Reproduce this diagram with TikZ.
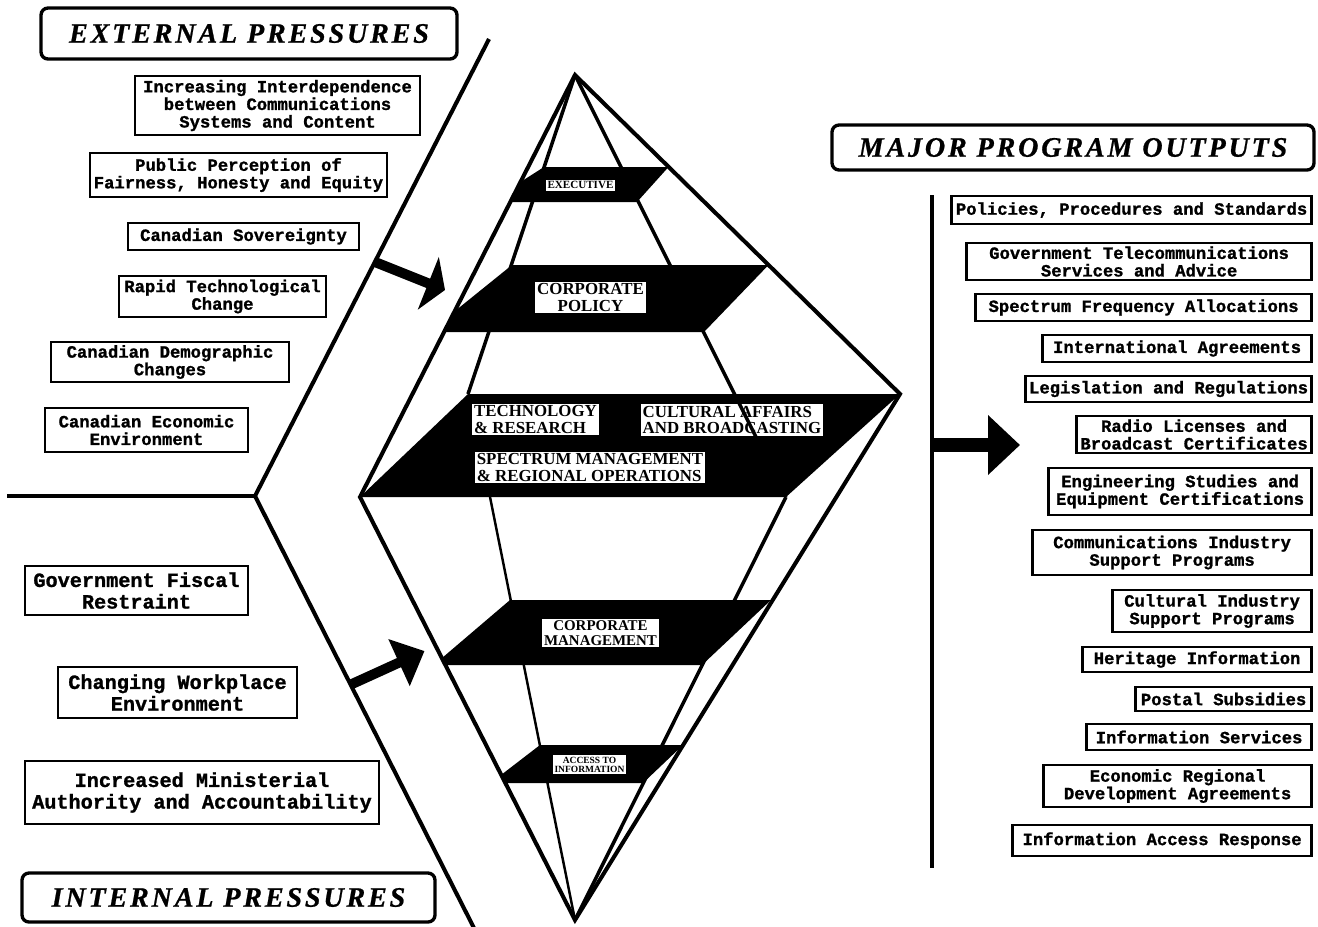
\documentclass[tikz,border=0pt]{standalone}
\usepackage{fontspec}
\setmainfont{Liberation Serif}
\newfontfamily\slabfont{Liberation Mono}[BoldFeatures={FakeBold=1.2}]
\newfontfamily\headfont{Liberation Serif}[LetterSpace=10, BoldItalicFeatures={FakeBold=0.8}]
\usetikzlibrary{arrows.meta}

\begin{document}
\begin{tikzpicture}[
    pbox/.style={draw, line width=1.6pt, inner xsep=2pt, inner ysep=1pt, align=center,
                 font=\slabfont\bfseries\fontsize{9.8}{10}\selectfont},
    bigbox/.style={pbox, font=\slabfont\bfseries\fontsize{11.5}{12.3}\selectfont},
    title/.style={draw, line width=1.9pt, rounded corners=4pt,
                  font=\headfont\bfseries\itshape\fontsize{16}{16}\selectfont},
    tag/.style={fill=white, inner sep=1pt, align=left,
                font=\bfseries\fontsize{9.6}{9.6}\selectfont},
    rim/.style={line width=2.3pt},
    ridge/.style={line width=2pt},
    fat/.style={line width=5.7pt}]
  \useasboundingbox (0,0) rectangle (26.36,-18.52);

  % headings
  \node[title, minimum width=8.32cm, minimum height=1.02cm] (ext) at (4.98,-0.67) {EXTERNAL PRESSURES};
  \node[title, minimum width=8.26cm, minimum height=0.98cm] (int) at (4.57,-17.95) {INTERNAL PRESSURES};
  \node[title, minimum width=9.64cm, minimum height=0.90cm] (outputs) at (21.46,-2.95) {MAJOR PROGRAM OUTPUTS};

  % external pressures
  \node[pbox, minimum width=5.70cm, minimum height=1.18cm] (interdep) at (5.55,-2.11) {Increasing Interdependence\\between Communications\\Systems and Content};
  \node[pbox, minimum width=5.94cm, minimum height=0.88cm] (fair) at (4.77,-3.50) {Public Perception of\\Fairness, Honesty and Equity};
  \node[pbox, minimum width=4.62cm, minimum height=0.54cm] (sov) at (4.87,-4.73) {Canadian Sovereignty};
  \node[pbox, minimum width=4.14cm, minimum height=0.82cm] (techchg) at (4.45,-5.93) {Rapid Technological\\Change};
  \node[pbox, minimum width=4.76cm, minimum height=0.80cm] (demog) at (3.40,-7.24) {Canadian Demographic\\Changes};
  \node[pbox, minimum width=4.06cm, minimum height=0.88cm] (econ) at (2.93,-8.60) {Canadian Economic\\Environment};

  % internal pressures
  \node[bigbox, minimum width=4.46cm, minimum height=0.98cm] (fiscal) at (2.73,-11.81) {Government Fiscal\\Restraint};
  \node[bigbox, minimum width=4.78cm, minimum height=1.02cm] (workpl) at (3.55,-13.85) {Changing Workplace\\Environment};
  \node[bigbox, minimum width=7.08cm, minimum height=1.26cm] (minist) at (4.04,-15.85) {Increased Ministerial\\Authority and Accountability};

  % program outputs
  \node[pbox, anchor=east, minimum width=7.20cm, minimum height=0.56cm] (policies) at (26.26,-4.20) {Policies, Procedures and Standards};
  \node[pbox, anchor=east, minimum width=6.90cm, minimum height=0.74cm] (govtel) at (26.26,-5.23) {Government Telecommunications\\Services and Advice};
  \node[pbox, anchor=east, minimum width=6.72cm, minimum height=0.54cm] (spectrum) at (26.26,-6.15) {Spectrum Frequency Allocations};
  \node[pbox, anchor=east, minimum width=5.38cm, minimum height=0.54cm] (intl) at (26.26,-6.97) {International Agreements};
  \node[pbox, anchor=east, minimum width=5.72cm, minimum height=0.52cm] (legis) at (26.26,-7.78) {Legislation and Regulations};
  \node[pbox, anchor=east, minimum width=4.70cm, minimum height=0.74cm] (radio) at (26.26,-8.69) {Radio Licenses and\\Broadcast Certificates};
  \node[pbox, anchor=east, minimum width=5.26cm, minimum height=0.94cm] (engin) at (26.26,-9.83) {Engineering Studies and\\Equipment Certifications};
  \node[pbox, anchor=east, minimum width=5.58cm, minimum height=0.90cm] (commind) at (26.26,-11.05) {Communications Industry\\Support Programs};
  \node[pbox, anchor=east, minimum width=3.98cm, minimum height=0.84cm] (cultind) at (26.26,-12.22) {Cultural Industry\\Support Programs};
  \node[pbox, anchor=east, minimum width=4.58cm, minimum height=0.50cm] (heritage) at (26.26,-13.19) {Heritage Information};
  \node[pbox, anchor=east, minimum width=3.52cm, minimum height=0.48cm] (postal) at (26.26,-13.98) {Postal Subsidies};
  \node[pbox, anchor=east, minimum width=4.50cm, minimum height=0.52cm] (infoserv) at (26.26,-14.74) {Information Services};
  \node[pbox, anchor=east, minimum width=5.36cm, minimum height=0.84cm] (regional) at (26.26,-15.72) {Economic Regional\\Development Agreements};
  \node[pbox, anchor=east, minimum width=5.98cm, minimum height=0.62cm] (access) at (26.26,-16.81) {Information Access Response};

  % chevron on the left
  \coordinate (c1) at (9.78,-0.78);
  \coordinate (c2) at (5.10,-9.92);
  \coordinate (c3) at (0.14,-9.92);
  \coordinate (c4) at (9.50,-18.60);
  \draw[rim] (c1) -- (c2) -- (c4);
  \draw[rim] (c3) -- (c2);

  % diamond corners
  \coordinate (top) at (11.50,-1.50);
  \coordinate (bot) at (11.50,-18.40);
  \coordinate (lft) at (7.20,-9.94);
  \coordinate (rgt) at (18.00,-7.88);
  \coordinate (back) at (9.36,-7.88);
  \coordinate (front) at (15.72,-9.94);
  \coordinate (back2) at (9.80,-9.94);

  % black bands
  \fill (10.88,-3.34) -- (13.37,-3.34) -- (12.74,-4.04) -- (10.20,-4.04) -- (10.41,-3.64) -- cycle;
  \fill (10.24,-5.30) -- (15.37,-5.30) -- (14.08,-6.64) -- (8.88,-6.64) -- (9.10,-6.22) -- cycle;
  \fill (back) -- (rgt) -- (front) -- (lft) -- cycle;
  \fill (10.20,-12.00) -- (15.42,-12.00) -- (14.04,-13.30) -- (8.90,-13.30) -- (8.84,-13.16) -- cycle;
  \fill (10.80,-14.90) -- (13.66,-14.90) -- (12.86,-15.66) -- (10.10,-15.66) -- (10.02,-15.50) -- cycle;

  % band labels
  \node[tag, font=\bfseries\fontsize{6.3}{6}\selectfont] (exec) at (11.61,-3.70) {EXECUTIVE};
  \node[tag, align=center] (cpol) at (11.81,-5.95) {CORPORATE\\POLICY};
  \node[tag] (tech) at (10.71,-8.39) {TECHNOLOGY\\\& RESEARCH};
  \node[tag] (cult) at (14.64,-8.40) {CULTURAL AFFAIRS\\AND BROADCASTING};
  \node[tag] (spec) at (11.80,-9.35) {SPECTRUM MANAGEMENT\\\& REGIONAL OPERATIONS};
  \node[tag, align=center, font=\bfseries\fontsize{8.5}{8.6}\selectfont] (cmgt) at (12.01,-12.66) {CORPORATE\\MANAGEMENT};
  \node[tag, align=center, inner sep=0.8pt, font=\bfseries\fontsize{5.4}{5.2}\selectfont] (ati) at (11.79,-15.29) {ACCESS TO\\INFORMATION};

  % diamond edges
  \draw[rim] (lft) -- (top) -- (rgt) -- (bot) -- cycle;
  \draw[ridge] (top) -- (back);
  \draw[ridge] (top) -- (front);
  \draw[ridge] (bot) -- (front);
  \draw[ridge, line width=1.4pt] (bot) -- (back2);

  % arrows into the diamond
  \coordinate (ua) at (7.50,-5.24);
  \coordinate (ub) at (8.90,-5.80);
  \coordinate (la) at (7.04,-13.68);
  \coordinate (lb) at (8.49,-13.02);
  \draw[fat, -{Triangle[length=0.36cm, width=1.12cm]}] (ua) -- (ub);
  \draw[fat, -{Triangle[length=0.56cm, width=1.00cm]}] (la) -- (lb);

  % outputs bar and arrow
  \coordinate (o1) at (18.64,-3.90);
  \coordinate (o2) at (18.64,-17.36);
  \coordinate (oa) at (18.64,-8.90);
  \coordinate (ob) at (20.40,-8.90);
  \draw[rim] (o1) -- (o2);
  \draw[line width=8pt, -{Triangle[length=0.64cm, width=1.16cm]}] (oa) -- (ob);
\end{tikzpicture}
\end{document}
